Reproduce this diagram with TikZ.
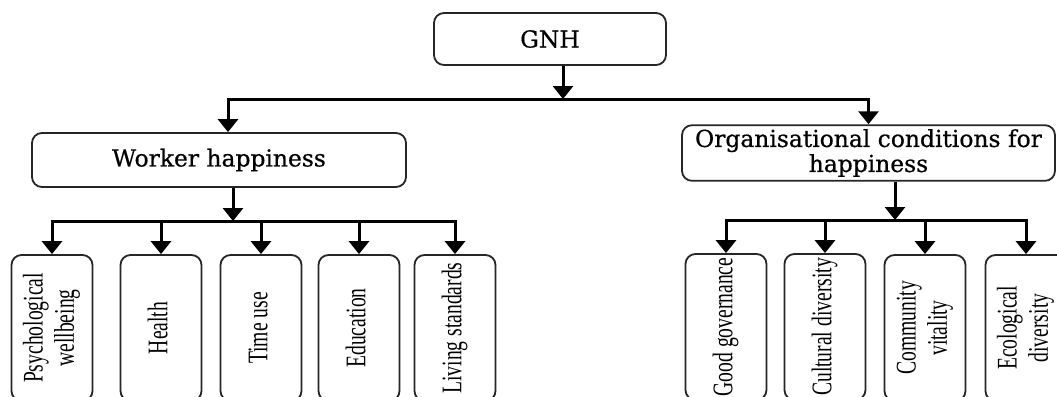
\documentclass[tikz,border=0pt]{standalone}
\usepackage{fontspec}
\setmainfont{Liberation Serif}
\newfontfamily\headfont[FakeBold=0.6]{DejaVu Serif}
\usetikzlibrary{arrows.meta, positioning}
\newcommand{\vlabel}[1]{\rotatebox{90}{\scalebox{1}[1.45]{\begin{tabular}{@{}c@{}}#1\end{tabular}}}}
\tikzset{
  headbox/.style={draw=black!85, line width=0.9pt, rounded corners=5pt, fill=white,
                  align=center, inner sep=2pt, font=\headfont\fontsize{11.7}{12.5}\selectfont},
  leafbox/.style={draw=black!85, line width=0.9pt, rounded corners=5pt, fill=white,
                  minimum width=40.5pt, minimum height=73pt, inner sep=0pt,
                  font=\fontsize{9.8}{10.8}\selectfont},
  conn/.style={line width=1.5pt, -{Triangle[length=6.5pt, width=10pt]}},
}

\begin{document}
\begin{tikzpicture}[x=0.5pt, y=-0.5pt]
    \useasboundingbox (0,0) rectangle (1057,397);
    \clip (0,0) rectangle (1057,397);
    %% top level
    \node[headbox, minimum width=116pt, minimum height=26pt] (gnh) at (550,39) {GNH};
    \node[headbox, minimum width=187pt, minimum height=27pt] (worker) at (219,160) {Worker happiness};
    \node[headbox, minimum width=186.5pt, minimum height=26pt] (org) at (868.5,153)
         {Organisational conditions for\\happiness};
    %% worker happiness dimensions
    \node[leafbox] (psych)  at (52,328)  {\vlabel{Psychological\\wellbeing}};
    \node[leafbox] (health) at (161,328) {\vlabel{Health}};
    \node[leafbox] (time)   at (261,328) {\vlabel{Time use}};
    \node[leafbox] (edu)    at (359,328) {\vlabel{Education}};
    \node[leafbox] (living) at (455,328) {\vlabel{Living standards}};
    %% organisational conditions
    \node[leafbox] (gov)    at (726,327)  {\vlabel{Good governance}};
    \node[leafbox] (cult)   at (825,327)  {\vlabel{Cultural diversity}};
    \node[leafbox] (comm)   at (925,328)  {\vlabel{Community\\vitality}};
    \node[leafbox] (eco)    at (1026,328) {\vlabel{Ecological\\diversity}};
    %% connectors
    \coordinate (topbus) at (563,99);
    \draw[conn] ([xshift=6.5pt]gnh.south) -- (topbus);
    \draw[conn] (topbus) -| ([xshift=4.5pt]worker.north);
    \draw[conn] (topbus) -| (org.north);
    \coordinate (wbus) at (233,221);
    \draw[conn] (worker.south -| wbus) -- (wbus);
    \draw[conn] (wbus) -| (psych.north);
    \draw[conn] (wbus) -| (health.north);
    \draw[conn] (wbus) -| (time.north);
    \draw[conn] (wbus) -| (edu.north);
    \draw[conn] (wbus) -| (living.north);
    \coordinate (obus) at (895,220);
    \draw[conn] (org.south -| obus) -- (obus);
    \draw[conn] (obus) -| (gov.north);
    \draw[conn] (obus) -| (cult.north);
    \draw[conn] (obus) -| (comm.north);
    \draw[conn] (obus) -| (eco.north);
\end{tikzpicture}
\end{document}
